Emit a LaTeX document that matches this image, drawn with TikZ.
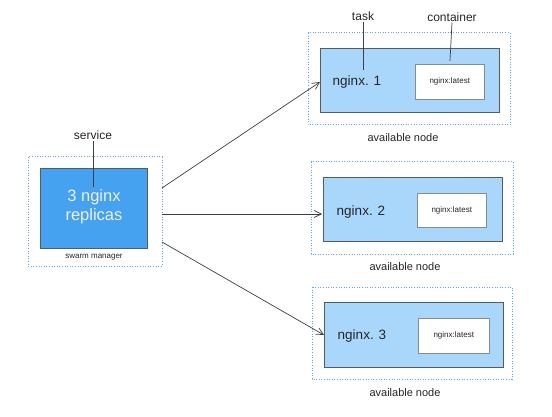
\documentclass[tikz,border=0pt]{standalone}
\usepackage{fontspec}
\setmainfont{Liberation Sans}
\usetikzlibrary{arrows.meta}
\definecolor{dotblue}{HTML}{5AAAEB}
\definecolor{darkbox}{HTML}{45A2F0}
\definecolor{lightbox}{HTML}{A9D6FB}
\definecolor{edge}{HTML}{555B63}
\tikzset{
  x=1pt, y=-1pt,
  dotbox/.style={draw=dotblue, line width=1pt, dash pattern=on 1pt off 1.6pt},
  svcbox/.style={draw=edge, fill=darkbox, line width=0.6pt},
  taskbox/.style={draw=edge, fill=lightbox, line width=0.6pt},
  ctrbox/.style={draw=edge!70, fill=white, line width=0.5pt},
  lbl/.style={font=\fontsize{12}{14}\selectfont, text=black!85, inner sep=1pt},
  small/.style={font=\fontsize{8}{10}\selectfont, text=black!85, inner sep=1pt},
  tasktxt/.style={font=\fontsize{13.5}{16}\selectfont, text=black!85, inner sep=1pt},
  pointer/.style={draw=black!75, line width=0.7pt},
  flow/.style={draw=black!75, line width=0.7pt, -{Straight Barb[length=7pt,width=7pt]}}
}
\begin{document}
\begin{tikzpicture}
\useasboundingbox[fill=white] (0,0) rectangle (552,417);
% swarm manager
\draw[dotbox] (28,157) rectangle (162,266);
\draw[svcbox] (40,168) rectangle (147,248);
\node[font=\fontsize{16.5}{19}\selectfont, text=white!94!blue, align=center, inner sep=1pt] (svc) at (94,207) {3 nginx\\replicas};
\node[small] (sm) at (94,257) {swarm manager};
\node[lbl] (service) at (93,135) {service};
\coordinate (svcend) at (93,187);
\draw[pointer] (service.south) -- (svcend);
\coordinate (m1) at (162,188);
\coordinate (m2) at (162,214);
\coordinate (m3) at (162,242);
% node 1
\draw[dotbox] (308,33) rectangle (510,125);
\draw[taskbox] (320,48) rectangle (499,112);
\node[ctrbox, minimum width=69pt, minimum height=35pt, anchor=north west, inner sep=0pt] (c1) at (415,64) {};
\node[small] at (c1.center) {nginx:latest};
\node[tasktxt] (t1) at (357,82) {nginx. 1};
\node[lbl] (task) at (363,16) {task};
\node[lbl] (container) at (452,17) {container};
\coordinate (taskend) at (363,70);
\coordinate (ctrend) at (450,61);
\draw[pointer] (task.south) -- (taskend);
\draw[pointer] (container.south) -- (ctrend);
\node[lbl, font=\fontsize{11}{13}\selectfont] (a1) at (403,138) {available node};
\coordinate (e1) at (320,82);
% node 2
\draw[dotbox] (311,162) rectangle (513,254);
\draw[taskbox] (323,177) rectangle (502,241);
\node[ctrbox, minimum width=69pt, minimum height=34pt, anchor=north west, inner sep=0pt] (c2) at (417,193) {};
\node[small] at (c2.center) {nginx:latest};
\node[tasktxt] (t2) at (361,212) {nginx. 2};
\node[lbl, font=\fontsize{11}{13}\selectfont] (a2) at (405,267) {available node};
\coordinate (e2) at (322,214);
% node 3
\draw[dotbox] (312,287) rectangle (512,379);
\draw[taskbox] (324,302) rectangle (503,367);
\node[ctrbox, minimum width=71pt, minimum height=35pt, anchor=north west, inner sep=0pt] (c3) at (418,318) {};
\node[small] at (c3.center) {nginx:latest};
\node[tasktxt] (t3) at (362,336) {nginx. 3};
\node[lbl, font=\fontsize{11}{13}\selectfont] (a3) at (405,393) {available node};
\coordinate (e3) at (324,335);
% arrows
\draw[flow] (m1) -- (e1);
\draw[flow] (m2) -- (e2);
\draw[flow] (m3) -- (e3);
\end{tikzpicture}
\end{document}
